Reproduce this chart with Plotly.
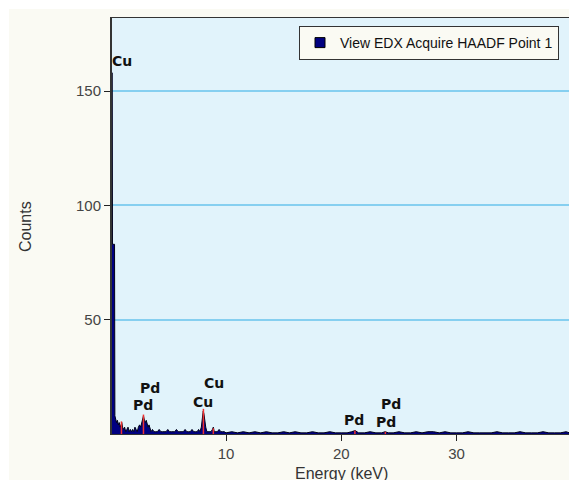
import plotly.graph_objects as go

# ---- data ----
energy_keV = [
    0.11, 0.13, 0.15, 0.33, 0.36, 0.42, 0.50, 0.58, 0.66, 0.74, 0.82, 0.90, 0.96, 1.02, 1.10,
    1.20, 1.30, 1.40, 1.50, 1.60, 1.70, 1.80, 1.90, 2.00, 2.10, 2.20, 2.30, 2.40, 2.50,
    2.60, 2.70, 2.78, 2.84, 2.92, 3.00, 3.08, 3.16, 3.24, 3.32, 3.40, 3.50, 3.62, 3.75,
    3.90, 4.05, 4.20, 4.35, 4.50, 4.65, 4.80, 4.95, 5.10, 5.25, 5.40, 5.55, 5.70, 5.85,
    6.00, 6.15, 6.30, 6.45, 6.60, 6.75, 6.90, 7.05, 7.20, 7.35, 7.50, 7.62, 7.74, 7.86,
    7.94, 8.02, 8.08, 8.16, 8.24, 8.34, 8.46, 8.58, 8.70, 8.82, 8.90, 8.98, 9.10, 9.25,
    9.40, 9.55, 9.70, 9.85, 10.0, 10.5, 11.0, 11.5, 12.0, 12.5, 13.0, 13.5, 14.0, 14.5,
    15.0, 15.5, 16.0, 16.5, 17.0, 17.5, 18.0, 18.5, 19.0, 19.5, 20.0, 20.5, 20.9, 21.2,
    21.5, 22.0, 22.5, 23.0, 23.5, 23.8, 24.1, 24.5, 25.0, 25.5, 26.0, 26.5, 27.0, 27.5,
    28.0, 28.5, 29.0, 29.5, 30.0, 30.5, 31.0, 31.5, 32.0, 32.5, 33.0, 33.5, 34.0, 34.5,
    35.0, 35.5, 36.0, 36.5, 37.0, 37.5, 38.0, 38.5, 39.0, 39.5, 39.8,
]
counts = [
    158, 158, 83, 83, 8, 6, 5, 6, 4, 5, 3, 4, 5, 3, 2,
    3, 1, 2, 3, 1, 2, 1, 2, 1, 3, 2, 1, 3, 4,
    3, 5, 7, 8, 6, 5, 6, 4, 3, 4, 2, 1, 2, 1,
    1, 1, 2, 1, 1, 1, 1, 2, 1, 1, 1, 1, 2, 1,
    1, 1, 1, 2, 1, 1, 1, 2, 1, 1, 1, 2, 1, 3,
    6, 10, 9, 5, 3, 1, 1, 1, 1, 2, 3, 1, 1, 1,
    2, 1, 1, 1, 0.5, 1, 0.5, 1, 0.5, 1, 0.5, 1, 0.5, 0.5,
    1, 0.5, 1, 0.5, 0.5, 1, 0.5, 0.5, 1, 0.5, 0.5, 0.5, 1, 1.5,
    0.5, 0.5, 1, 0.5, 0.5, 1, 0.5, 0.5, 1, 0.5, 0.5, 1, 0.5, 1,
    1, 0.5, 1, 0.5, 0.5, 0.5, 1, 0.5, 0.5, 0.5, 0.5, 1, 0.5, 0.5,
    0.5, 1, 0.5, 0.5, 0.5, 1, 0.5, 0.5, 0.5, 1, 0.5,
]

# element marker lines (red)
peak_energy = [0.93, 2.84, 8.04, 8.90, 21.18, 23.82]
peak_height = [5.5, 8.5, 11.0, 2.5, 1.5, 1.0]

# element labels
label_text = ["Cu", "Pd", "Pd", "Cu", "Cu", "Pd", "Pd", "Pd"]
label_x = [0.98, 2.82, 3.41, 8.03, 9.0, 21.14, 23.88, 24.27]
label_y = [163, 12.9, 20.3, 14.2, 22.5, 6.0, 5.2, 13.3]

series_name = "View EDX Acquire HAADF Point 1"
x_ticks = [10, 20, 30]
y_ticks = [50, 100, 150]

# ---- figure ----
fig = go.Figure()

fig.add_trace(go.Scatter(
    x=energy_keV, y=counts, mode="lines", fill="tozeroy",
    fillcolor="#000080", line=dict(color="#000018", width=1),
    showlegend=False, hoverinfo="skip",
))

px, py = [], []
for e, h in zip(peak_energy, peak_height):
    px += [e, e, None]
    py += [0, h, None]
fig.add_trace(go.Scatter(
    x=px, y=py, mode="lines", line=dict(color="#F03030", width=1.5),
    showlegend=False, hoverinfo="skip",
))

# legend entry
fig.add_trace(go.Scatter(
    x=[None], y=[None], mode="markers", name=series_name,
    marker=dict(symbol="square", size=10, color="#000080",
                line=dict(color="#000000", width=1)),
))

for t, x, y in zip(label_text, label_x, label_y):
    fig.add_annotation(
        x=x, y=y, text="<b>%s</b>" % t, showarrow=False,
        xanchor="center", yanchor="middle",
        font=dict(family="DejaVu Sans", size=14, color="#111111"),
    )

W, H = 569, 480
PL, PR, PT, PB = 112, 569, 18, 434
pw, ph = PR - PL, PB - PT

def paper_x(p):
    return (p - PL) / pw

def paper_y(p):
    return (PB - p) / ph

# axis titles
fig.add_annotation(
    text="Energy (keV)", xref="paper", yref="paper",
    x=paper_x(341), y=0, yshift=-(465 - PB) + 2, xanchor="center", yanchor="top",
    showarrow=False, font=dict(family="Liberation Sans, Arial", size=16, color="#333333"),
)
fig.add_annotation(
    text="Counts", xref="paper", yref="paper",
    x=paper_x(25), y=paper_y(227), textangle=-90, xanchor="center", yanchor="middle",
    showarrow=False, font=dict(family="Liberation Sans, Arial", size=16, color="#333333"),
)

# white page strips at the top and left edge
fig.add_shape(type="rect", xref="paper", yref="paper", layer="below",
              x0=paper_x(-5), x1=paper_x(W + 5), y0=paper_y(9), y1=paper_y(-5),
              fillcolor="white", line_width=0)
fig.add_shape(type="rect", xref="paper", yref="paper", layer="below",
              x0=paper_x(-5), x1=paper_x(9), y0=paper_y(H + 5), y1=paper_y(-5),
              fillcolor="white", line_width=0)

tickfont = dict(family="Liberation Sans, Arial", size=15, color="#444444")

fig.update_layout(
    width=W, height=H,
    margin=dict(l=PL, r=W - PR, t=PT, b=H - PB, pad=0),
    paper_bgcolor="#FAFAF3",
    plot_bgcolor="#E1F3FB",
    xaxis=dict(
        range=[0.11, 39.75], tickvals=x_ticks, ticks="outside", ticklen=6,
        tickcolor="#222222", showline=True, linecolor="#333333", linewidth=1,
        mirror=True, showgrid=False, zeroline=False, tickfont=tickfont,
    ),
    yaxis=dict(
        range=[0, 182], tickvals=y_ticks, ticks="outside", ticklen=6,
        tickcolor="#222222", showline=True, linecolor="#333333", linewidth=2,
        showgrid=True, gridcolor="#86CFF0", gridwidth=2, zeroline=False,
        tickfont=tickfont,
    ),
    legend=dict(
        x=paper_x(299), y=paper_y(26), xanchor="left", yanchor="top",
        bgcolor="#FAFAF3", bordercolor="#333333", borderwidth=1,
        font=dict(family="Liberation Sans, Arial", size=14, color="#111111"),
        itemwidth=30, tracegroupgap=0,
    ),
    showlegend=True,
)

fig.write_html(
    "out.html",
    config={"displayModeBar": False},
    post_script="document.documentElement.style.overflow='hidden';"
                "document.body.style.overflow='hidden';"
                "document.body.style.margin='0';",
)
